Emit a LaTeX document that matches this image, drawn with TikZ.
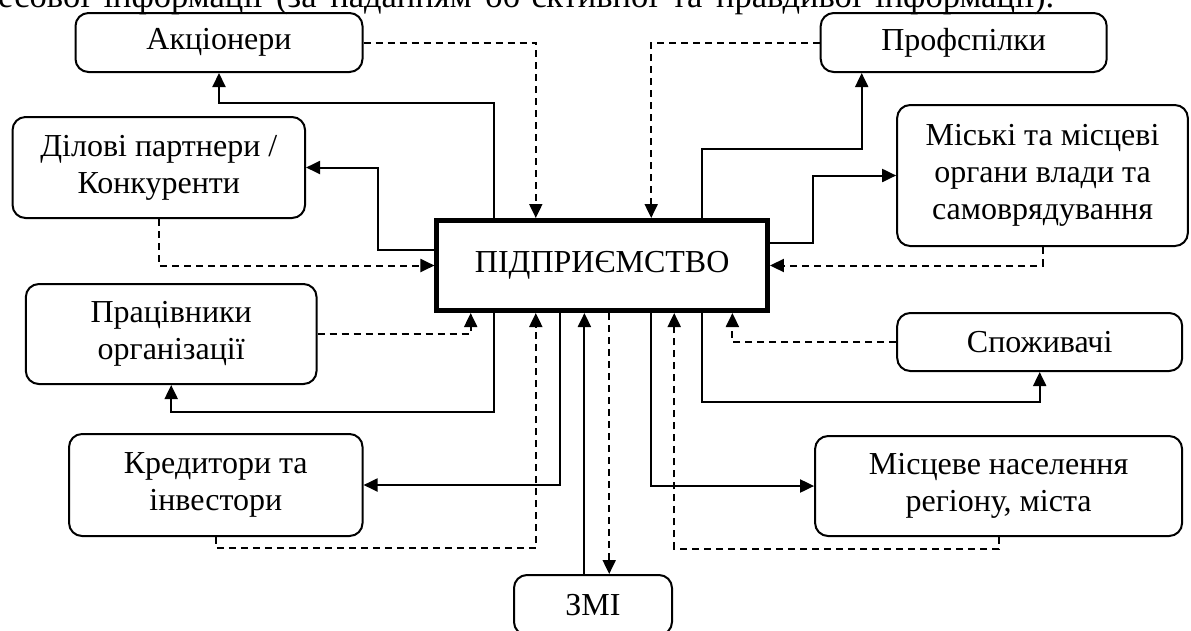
\documentclass[tikz,border=0pt]{standalone}
\usepackage{fontspec}
\setmainfont{Liberation Serif}
\usetikzlibrary{arrows.meta}

\begin{document}
\begin{tikzpicture}[x=1pt,y=-1pt,
    font=\fontsize{32}{37}\selectfont,
    party/.style={draw,line width=2pt,rounded corners=13pt,align=center,inner sep=0pt},
    firm/.style={draw,line width=5pt,inner sep=0pt},
    arr/.style={line width=2pt,-{Triangle[length=14pt,width=13pt]}},
    dasharr/.style={arr,dash pattern=on 7pt off 5pt}]
    % Canvas (pixel grid, y grows downwards)
    \useasboundingbox (0,0) rectangle (1191,630);
    \clip (0,0) rectangle (1191,630);

    % Cut-off line of the text above (justified line)
    \node[anchor=base west,inner sep=0pt,font=\fontsize{34.5}{40}\selectfont] (cut) at (-2,7)
        {\makebox[1056pt][s]{есової інформації (за наданням об’єктивної та правдивої інформації).}};

    % Enterprise in the centre
    \node[firm,minimum width=330.5pt,minimum height=90pt] (ent) at (602.2,265.5) {ПІДПРИЄМСТВО};

    % Stakeholders
    \node[party,minimum width=287pt,minimum height=59pt]   (akc)  at (219,42.5)    {Акціонери};
    \node[party,minimum width=286pt,minimum height=59pt]   (prof) at (963.7,42.5)  {Профспілки};
    \node[party,minimum width=292.5pt,minimum height=101pt] (dil)  at (158.8,167.5) {Ділові партнери /\\Конкуренти};
    \node[party,minimum width=290.7pt,minimum height=141pt] (mis)  at (1042.5,175.5) {Міські та місцеві\\органи влади та\\самоврядування};
    \node[party,minimum width=290.7pt,minimum height=100pt] (prac) at (171.2,334)   {Працівники\\організації};
    \node[party,minimum width=285pt,minimum height=58pt]   (spoz) at (1039.7,342)  {Споживачі};
    \node[party,minimum width=293.5pt,minimum height=102pt] (kred) at (215.8,485)   {Кредитори та\\інвестори};
    \node[party,minimum width=367pt,minimum height=100pt]  (misc) at (998.6,486)   {Місцеве населення\\регіону, міста};
    \node[party,minimum width=158pt,minimum height=60pt]   (zmi)  at (593,605)     {ЗМІ};

    % Top side
    \draw[dasharr] (akc.east) -| ([xshift=-66.4pt]ent.north);
    \draw[arr] ([xshift=-108.5pt]ent.north) -- ++(0,-115) -| (akc.south);
    \draw[dasharr] (prof.west) -| ([xshift=49pt]ent.north);
    \draw[arr] ([xshift=100pt]ent.north) -- ++(0,-69) -| ([xshift=-102pt]prof.south);

    % Left and right sides
    \draw[arr] ([yshift=15.5pt]ent.west) -- ++(-56.7,0) |- (dil.east);
    \draw[dasharr] (dil.south) |- (ent.west);
    \draw[arr] ([yshift=22.5pt]ent.east) -- ++(43.2,0) |- (mis.west);
    \draw[dasharr] (mis.south) |- (ent.east);

    % Bottom side, left half
    \draw[dasharr] (prac.east) -| ([xshift=-131.5pt]ent.south);
    \draw[arr] ([xshift=-108.5pt]ent.south) -- ++(0,99) -| (prac.south);
    \draw[dasharr] (kred.south) -- ++(0,11) -| ([xshift=-66.4pt]ent.south);
    \draw[arr] ([xshift=-42.3pt]ent.south) |- (kred.east);
    \draw[arr] ([xshift=-8.6pt]zmi.north) -- ++(0,-261);

    % Bottom side, right half
    \draw[dasharr] ([xshift=7pt]ent.south) -- ++(0,261);
    \draw[arr] ([xshift=49pt]ent.south) |- (misc.west);
    \draw[dasharr] (misc.south) -- ++(0,12) -| ([xshift=72pt]ent.south);
    \draw[arr] ([xshift=100pt]ent.south) -- ++(0,89) -| (spoz.south);
    \draw[dasharr] (spoz.west) -| ([xshift=130.2pt]ent.south);
\end{tikzpicture}
\end{document}
